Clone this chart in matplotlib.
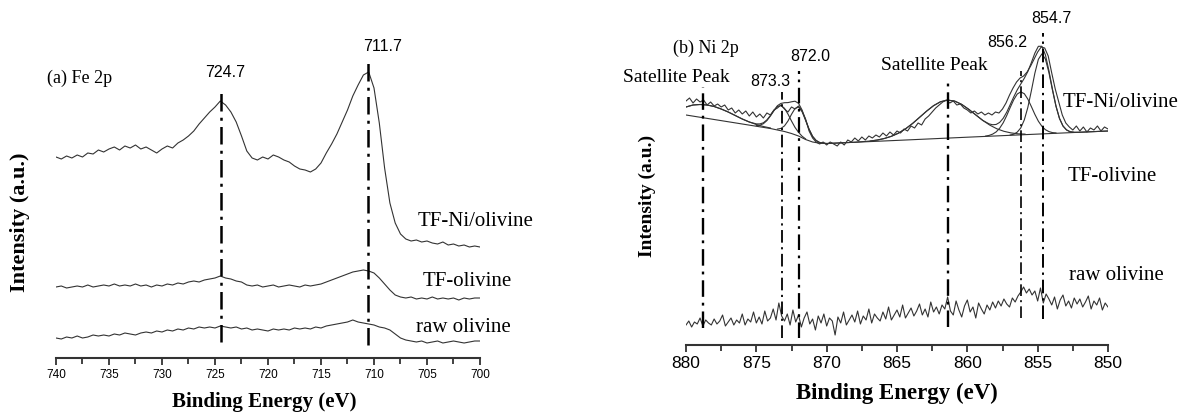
import numpy as np
import matplotlib
matplotlib.use("Agg")
import matplotlib.pyplot as plt
from matplotlib.ticker import MultipleLocator

SERIF = "Liberation Serif"
SANS = "Liberation Sans"
LINE = "#333333"
DASHDOT = (0, (7, 2.5, 1.2, 2.5))

# ---------------- (a) Fe 2p ----------------
fe_energy = np.arange(740.0, 699.99, -0.5)

fe_tf_ni = [201, 199, 202, 200, 203, 201, 205, 204, 208, 206, 209, 211, 208, 212, 210, 213, 209,
            211, 208, 205, 209, 212, 210, 215, 218, 222, 227, 234, 240, 246, 251, 257, 253, 246,
            236, 222, 207, 200, 198, 201, 199, 203, 201, 198, 196, 192, 189, 188, 186, 189, 195,
            205, 214, 224, 236, 248, 262, 273, 283, 286, 270, 235, 190, 155, 135, 124, 119, 117,
            118, 116, 117, 115, 114, 116, 113, 114, 112, 113, 111, 112, 111]
fe_tf = [71, 72, 70, 71, 72, 71, 73, 71, 72, 73, 72, 74, 72, 73, 72, 74, 72, 73, 71, 73, 72, 74,
         73, 75, 74, 76, 77, 76, 78, 79, 80, 82, 80, 79, 77, 76, 73, 72, 73, 71, 72, 73, 71, 72,
         73, 72, 71, 73, 72, 73, 74, 76, 78, 80, 82, 84, 86, 87, 88, 87, 85, 80, 74, 68, 63, 61,
         60, 61, 59, 60, 59, 61, 59, 60, 59, 60, 58, 60, 59, 60, 60]
fe_raw = [20, 19, 21, 20, 22, 20, 21, 23, 22, 23, 22, 24, 23, 25, 24, 23, 25, 26, 25, 27, 26, 28,
          27, 29, 28, 30, 29, 31, 30, 31, 30, 32, 31, 30, 31, 29, 30, 28, 29, 28, 27, 29, 28, 29,
          28, 30, 29, 30, 29, 31, 30, 32, 33, 34, 35, 36, 38, 36, 35, 34, 33, 31, 30, 28, 24, 20,
          18, 17, 16, 17, 15, 16, 17, 15, 16, 17, 16, 15, 16, 17, 17]

fe_lines = [724.4, 710.6]
fe_line_ranges = [(16, 269), (13, 300)]
fe_peak_labels = ["724.7", "711.7"]
fe_peak_label_pos = [(724.06, 285), (709.15, 311)]

fe_names = ["TF-Ni/olivine", "TF-olivine", "raw olivine"]
fe_name_pos = [(705.85, 136), (705.4, 77), (706.0, 31)]

# ---------------- (b) Ni 2p ----------------
ni_energy = np.arange(880.0, 849.99, -0.25)
ni_tf_ni = [244, 247, 242, 246, 243, 245, 240, 243, 239, 241, 238, 240, 235, 237, 232, 235, 231,
            234, 229, 233, 228, 231, 227, 232, 230, 235, 237, 240, 236, 233, 238, 236, 239, 234,
            226, 214, 207, 203, 201, 203, 200, 203, 201, 199, 203, 200, 205, 203, 207, 204, 208,
            205, 209, 207, 210, 208, 212, 209, 213, 210, 214, 212, 216, 214, 219, 217, 222, 220,
            226, 229, 233, 237, 240, 243, 245, 242, 244, 240, 241, 237, 235, 232, 234, 231, 233,
            230, 232, 230, 233, 232, 236, 242, 250, 257, 263, 267, 269, 273, 279, 286, 293, 298,
            297, 289, 272, 256, 243, 230, 222, 218, 215, 219, 214, 218, 213, 217, 215, 219, 214,
            218, 216]

ni_raw_energy = np.arange(880.0, 849.99, -0.2)
ni_raw = [20, 24, 18, 23, 21, 27, 19, 25, 22, 20,
          26, 21, 24, 30, 19, 23, 27, 20, 25, 22,
          31, 20, 26, 23, 33, 22, 28, 21, 34, 24,
          27, 36, 25, 42, 29, 24, 31, 20, 35, 23,
          30, 18, 27, 33, 21, 26, 15, 29, 22, 31,
          19, 27, 24, 10, 28, 22, 33, 20, 25, 30,
          23, 34, 21, 29, 25, 36, 22, 31, 27, 24,
          33, 26, 38, 25, 30, 35, 28, 40, 27, 32,
          37, 29, 34, 41, 30, 36, 28, 43, 33, 38,
          31, 40, 36, 48, 34, 30, 44, 35, 28, 39,
          45, 33, 38, 27, 42, 36, 31, 40, 35, 43,
          37, 44, 39, 46, 41, 38, 47, 43, 49, 53,
          58, 52, 56, 50, 54, 44, 57, 42, 51, 46,
          40, 48, 36, 45, 50, 39, 44, 37, 47, 41,
          46, 38, 43, 49, 36, 44, 40, 47, 35, 42,
          38]

# fitted background and components
bg_x = [880, 877, 874, 873, 872.5, 872, 871.5, 871, 870.5, 870, 865, 860, 855, 850]
bg_y = [230, 223.25, 216.5, 213.5, 211.5, 209, 205.5, 203, 201.8, 201.5, 204.6, 207.8, 210.9, 214]

env_x = [880, 879.5, 879, 878.5, 878, 877.5, 877, 876.5, 876, 875.5, 875, 874.75, 874.5, 874.25,
         874, 873.75, 873.5, 873.25, 873, 872.75, 872.5, 872.25, 872, 871.75, 871.5, 871.25, 871,
         870.75, 870.5, 870, 869, 868, 866.9, 866.4, 865.9, 865.4, 864.9, 864.4, 863.9, 863.4,
         862.9, 862.4, 861.9, 861.4, 860.9, 860.4, 859.9, 859.4, 858.9, 858.45, 858.2, 857.95,
         857.7, 857.45, 857.2, 856.95, 856.7, 856.45, 856.2, 855.95, 855.7, 855.45, 855.2,
         854.95, 854.7, 854.45, 854.2, 853.95, 853.7, 853.45, 853.2, 852.95, 852.7, 852.45,
         852, 851, 850]
env_y = [238, 240, 240.5, 240, 238.5, 236, 233, 229.5, 226, 223, 221.1, 221.1, 222.2, 225.1,
         229.5, 234.6, 239.3, 241.6, 242.3, 242.4, 243.2, 243.8, 241.7, 235.0, 225.3, 215.7,
         208.6, 204.5, 202.5, 201.5, 202.1, 202.75, 204.0, 204.95, 206.5, 208.7, 211.8, 216.1,
         221.45, 227.6, 233.8, 239.35, 243.3, 244.9, 243.9, 240.6, 235.7, 230.1, 224.55, 221.1,
         220.25, 220.55, 222.6, 226.7, 232.8, 240.4, 248.1, 255.2, 261.0, 266.75, 273.45, 282.3,
         291.85, 298.7, 298.7, 290.1, 274.4, 255.9, 239.15, 226.6, 219.0, 215.1, 213.3, 212.8,
         212.75, 213.4, 214.0]

comp_x = [
    [880, 879.5, 879, 878.5, 878, 877.5, 877, 876.5, 876, 875.5, 875, 874.5, 874],
    [875, 874.75, 874.5, 874.25, 874, 873.75, 873.5, 873.25, 873, 872.75, 872.5, 872.25, 872,
     871.75, 871.5],
    [873.5, 873.25, 873, 872.75, 872.5, 872.25, 872, 871.75, 871.5, 871.25, 871, 870.75, 870.5],
    [866.9, 866.4, 865.9, 865.4, 864.9, 864.4, 863.9, 863.4, 862.9, 862.4, 861.9, 861.4, 860.9,
     860.4, 859.9, 859.4, 858.9, 858.4, 857.9, 857.4, 856.9, 856.4, 855.9],
    [858.7, 858.45, 858.2, 857.95, 857.7, 857.45, 857.2, 856.95, 856.7, 856.45, 856.2, 855.95,
     855.7, 855.45, 855.2, 854.95, 854.7, 854.45, 854.2, 853.95, 853.7],
    [856.95, 856.7, 856.45, 856.2, 855.95, 855.7, 855.45, 855.2, 854.95, 854.7, 854.45, 854.2,
     853.95, 853.7, 853.45, 853.2, 852.95, 852.7, 852.45],
]
comp_y = [
    [238, 240, 240.5, 240, 238.5, 236, 233, 229.5, 226, 223, 220.5, 218.5, 217],
    [219.4, 219.8, 221.3, 224.4, 229.0, 234.3, 238.4, 239.4, 236.7, 230.9, 224.0, 217.6, 212.7,
     208.8, 206.1],
    [215.9, 216.6, 219.1, 224.0, 230.7, 236.5, 238, 233.4, 224.7, 215.7, 208.6, 204.5, 202.5],
    [204.0, 204.95, 206.5, 208.7, 211.8, 216.1, 221.45, 227.6, 233.8, 239.35, 243.3, 244.9,
     243.9, 240.6, 235.7, 230.1, 224.55, 219.85, 216.2, 213.7, 212.1, 211.2, 210.9],
    [208.9, 209.6, 210.9, 213.1, 216.8, 222.2, 229.4, 237.6, 245.3, 251.0, 253.1, 251.3, 245.9,
     238.5, 230.65, 223.8, 218.7, 215.3, 213.4, 212.4, 212.05],
    [210.0, 210.8, 212.9, 217.1, 225.1, 237.5, 254.1, 271.75, 285.7, 291.1, 286.0, 272.4, 255.0,
     238.8, 226.6, 219.0, 215.1, 213.3, 212.8],
]

ni_lines = [878.8, 873.2, 871.95, 861.4, 856.2, 854.6]
ni_line_ranges = [(17, 258), (7, 253), (7, 274), (18, 266), (27, 274), (26, 312)]
ni_line_widths = [1.7, 1.3, 1.6, 1.7, 1.2, 1.4]
ni_peak_labels = ["873.3", "872.0", "856.2", "854.7"]
ni_peak_label_pos = [(874.03, 263), (871.19, 288), (857.19, 302), (853.99, 326)]
ni_sat_pos = [(880.71, 267), (862.34, 279)]

ni_names = ["TF-Ni/olivine", "TF-olivine", "raw olivine"]
ni_name_pos = [(853.2, 242), (852.85, 168), (852.8, 70)]

W, H = 1184, 413
fig = plt.figure(figsize=(W / 100, H / 100), dpi=100)


def px(x, y):
    return x / W, 1 - y / H


def style_axis(ax, xlim, ylim, tick_size):
    ax.set_xlim(*xlim)
    ax.set_ylim(*ylim)
    for side in ["left", "right", "top"]:
        ax.spines[side].set_visible(False)
    ax.spines["bottom"].set_linewidth(1.5)
    ax.spines["bottom"].set_color(LINE)
    ax.set_yticks([])
    ax.xaxis.set_major_locator(MultipleLocator(5))
    ax.xaxis.set_minor_locator(MultipleLocator(2.5))
    ax.tick_params(axis="x", which="major", length=5, width=1.3, color=LINE,
                   labelsize=tick_size, pad=3)
    ax.tick_params(axis="x", which="minor", length=4, width=1.3, color=LINE)
    for lab in ax.get_xticklabels():
        lab.set_fontfamily(SANS)
    ax.patch.set_alpha(0)


# left panel
ax1 = fig.add_axes([56 / W, 55 / H, 424 / W, 353 / H])
for series in [fe_tf_ni, fe_tf, fe_raw]:
    ax1.plot(fe_energy, series, color=LINE, lw=0.8)
for x, (y0, y1) in zip(fe_lines, fe_line_ranges):
    ax1.plot([x, x], [y0, y1], color="black", lw=1.8, linestyle=DASHDOT)
for txt, (x, y) in zip(fe_peak_labels, fe_peak_label_pos):
    ax1.text(x, y, txt, ha="center", va="center", fontsize=11.5, family=SANS)
ax1.text(740.85, 280, "(a) Fe 2p", ha="left", va="center", fontsize=13, family=SERIF)
for txt, (x, y) in zip(fe_names, fe_name_pos):
    ax1.text(x, y, txt, ha="left", va="center", fontsize=15, family=SERIF, clip_on=False)
style_axis(ax1, (740, 700), (0, 353), 8.5)

# right panel
ax2 = fig.add_axes([686 / W, 68 / H, 422 / W, 340 / H])
ax2.plot(bg_x, bg_y, color=LINE, lw=0.8)
for cx, cy in zip(comp_x, comp_y):
    ax2.plot(cx, cy, color=LINE, lw=0.8)
ax2.plot(env_x, env_y, color=LINE, lw=0.8)
ax2.plot(ni_energy, ni_tf_ni, color=LINE, lw=0.8)
ax2.plot(ni_raw_energy, ni_raw, color=LINE, lw=0.8)
for x, (y0, y1), w in zip(ni_lines, ni_line_ranges, ni_line_widths):
    ax2.plot([x, x], [y0, y1], color="black", lw=w, linestyle=DASHDOT)
for txt, (x, y) in zip(ni_peak_labels, ni_peak_label_pos):
    ax2.text(x, y, txt, ha="center", va="center", fontsize=11.5, family=SANS)
for x, y in ni_sat_pos:
    ax2.text(x, y, "Satellite Peak", ha="center", va="center", fontsize=14, family=SERIF,
             clip_on=False)
ax2.text(880.92, 297, "(b) Ni 2p", ha="left", va="center", fontsize=13, family=SERIF,
         clip_on=False)
for txt, (x, y) in zip(ni_names, ni_name_pos):
    ax2.text(x, y, txt, ha="left", va="center", fontsize=15, family=SERIF, clip_on=False)
style_axis(ax2, (880, 850), (0, 340), 12.5)

# axis titles
fig.text(*px(264, 402), "Binding Energy (eV)", ha="center", va="center", fontsize=15,
         fontweight="bold", family=SERIF)
fig.text(*px(897, 393), "Binding Energy (eV)", ha="center", va="center", fontsize=16.5,
         fontweight="bold", family=SERIF)
fig.text(*px(20, 222), "Intensity (a.u.)", ha="center", va="center", rotation=90,
         fontsize=16, fontweight="bold", family=SERIF)
fig.text(*px(647, 196), "Intensity (a.u.)", ha="center", va="center", rotation=90,
         fontsize=14, fontweight="bold", family=SERIF)

fig.savefig("out.png", dpi=100)
